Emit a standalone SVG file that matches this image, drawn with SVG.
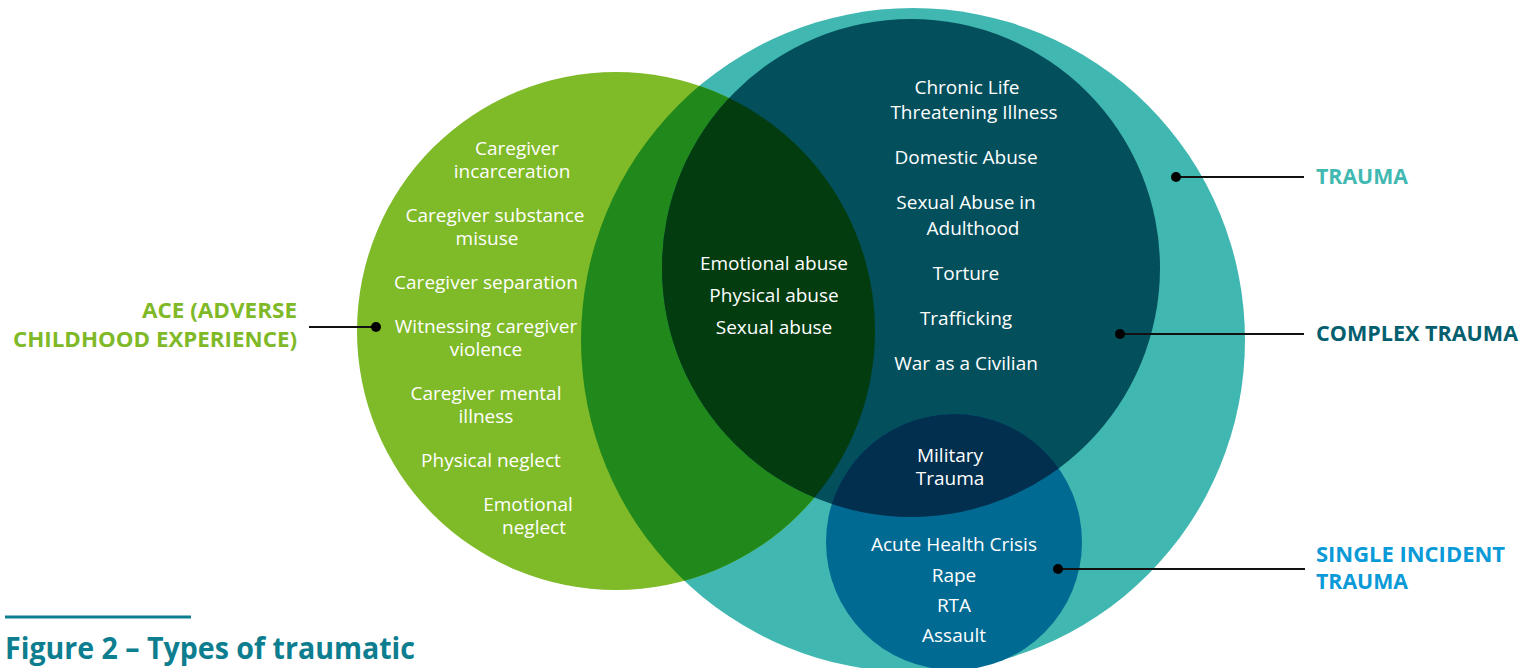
<svg xmlns="http://www.w3.org/2000/svg" width="1519" height="668" viewBox="0 0 1519 668">
<style>
.t{font-family:"Open Sans","Noto Sans",sans-serif;font-size:19px;fill:#ffffff;text-anchor:middle}
.lbl{font-family:"Open Sans","Noto Sans",sans-serif;font-size:21.5px;font-weight:700}
.lead{stroke:#111;stroke-width:2;fill:none}
.dot{fill:#000}
</style>
<defs>
<clipPath id="cTrauma"><circle cx="913" cy="340" r="332"/></clipPath>
<clipPath id="cGreen"><circle cx="616" cy="331" r="259"/></clipPath>
<clipPath id="cComplex"><circle cx="911" cy="268" r="249"/></clipPath>
</defs>
<rect width="1519" height="668" fill="#ffffff"/>
<g id="trauma">
<circle cx="913" cy="340" r="332" fill="#40B7B0"/>
</g>
<g id="ace">
<circle cx="616" cy="331" r="259" fill="#7FBA28"/>
<circle cx="616" cy="331" r="259" fill="#21891C" clip-path="url(#cTrauma)"/>
</g>
<g id="complex-trauma">
<circle cx="911" cy="268" r="249" fill="#034F5C"/>
<circle cx="911" cy="268" r="249" fill="#033C0F" clip-path="url(#cGreen)"/>
</g>
<g id="single-incident-trauma">
<circle cx="954" cy="542" r="128" fill="#006A93"/>
<circle cx="954" cy="542" r="128" fill="#022F4E" clip-path="url(#cComplex)"/>
</g>
<g id="ace-items">
<text class="t" x="517" y="155">Caregiver</text>
<text class="t" x="512" y="178">incarceration</text>
<text class="t" x="495" y="222">Caregiver substance</text>
<text class="t" x="487" y="245">misuse</text>
<text class="t" x="486" y="289">Caregiver separation</text>
<text class="t" x="486" y="333">Witnessing caregiver</text>
<text class="t" x="486" y="356">violence</text>
<text class="t" x="486" y="400">Caregiver mental</text>
<text class="t" x="486" y="423">illness</text>
<text class="t" x="491" y="467">Physical neglect</text>
<text class="t" x="528" y="511">Emotional</text>
<text class="t" x="534" y="534">neglect</text>
</g>
<g id="overlap-items">
<text class="t" x="774" y="270">Emotional abuse</text>
<text class="t" x="774" y="302">Physical abuse</text>
<text class="t" x="774" y="334">Sexual abuse</text>
</g>
<g id="complex-items">
<text class="t" x="967" y="94">Chronic Life</text>
<text class="t" x="974" y="119">Threatening Illness</text>
<text class="t" x="966" y="164">Domestic Abuse</text>
<text class="t" x="966" y="209">Sexual Abuse in</text>
<text class="t" x="973" y="235">Adulthood</text>
<text class="t" x="966" y="280">Torture</text>
<text class="t" x="966" y="325">Trafficking</text>
<text class="t" x="966" y="370">War as a Civilian</text>
<text class="t" x="950" y="462">Military</text>
<text class="t" x="950" y="485">Trauma</text>
</g>
<g id="single-items">
<text class="t" x="954" y="551">Acute Health Crisis</text>
<text class="t" x="954" y="582">Rape</text>
<text class="t" x="954" y="612">RTA</text>
<text class="t" x="954" y="642">Assault</text>
</g>
<g id="connectors">
<line class="lead" x1="1176" y1="177" x2="1304" y2="177"/>
<circle class="dot" cx="1176" cy="177" r="5"/>
<line class="lead" x1="1120" y1="334" x2="1304" y2="334"/>
<circle class="dot" cx="1120" cy="334" r="5"/>
<line class="lead" x1="1058" y1="569" x2="1305" y2="569"/>
<circle class="dot" cx="1058" cy="569" r="5"/>
<line class="lead" x1="309" y1="327" x2="376" y2="327"/>
<circle class="dot" cx="376" cy="327" r="5"/>
</g>
<g id="labels">
<text class="lbl" x="1316" y="184" fill="#41B8B1" textLength="92" lengthAdjust="spacingAndGlyphs">TRAUMA</text>
<text class="lbl" x="1316" y="341" fill="#035E6E" textLength="202" lengthAdjust="spacingAndGlyphs">COMPLEX TRAUMA</text>
<text class="lbl" x="1316" y="562" fill="#0A9AD8" textLength="189" lengthAdjust="spacingAndGlyphs">SINGLE INCIDENT</text>
<text class="lbl" x="1316" y="589" fill="#0A9AD8" textLength="92" lengthAdjust="spacingAndGlyphs">TRAUMA</text>
<text class="lbl" x="142" y="318" fill="#80B927" textLength="155" lengthAdjust="spacingAndGlyphs">ACE (ADVERSE</text>
<text class="lbl" x="13" y="347" fill="#80B927" textLength="284" lengthAdjust="spacingAndGlyphs">CHILDHOOD EXPERIENCE)</text>
</g>
<g id="title">
<line x1="5" y1="617" x2="191" y2="617" stroke="#0C7E8F" stroke-width="3"/>
<text x="5" y="659" fill="#0C7E8F" font-family="Open Sans, Noto Sans, sans-serif" font-size="31" font-weight="700" textLength="410" lengthAdjust="spacingAndGlyphs">Figure 2 – Types of traumatic</text>
</g>
</svg>
